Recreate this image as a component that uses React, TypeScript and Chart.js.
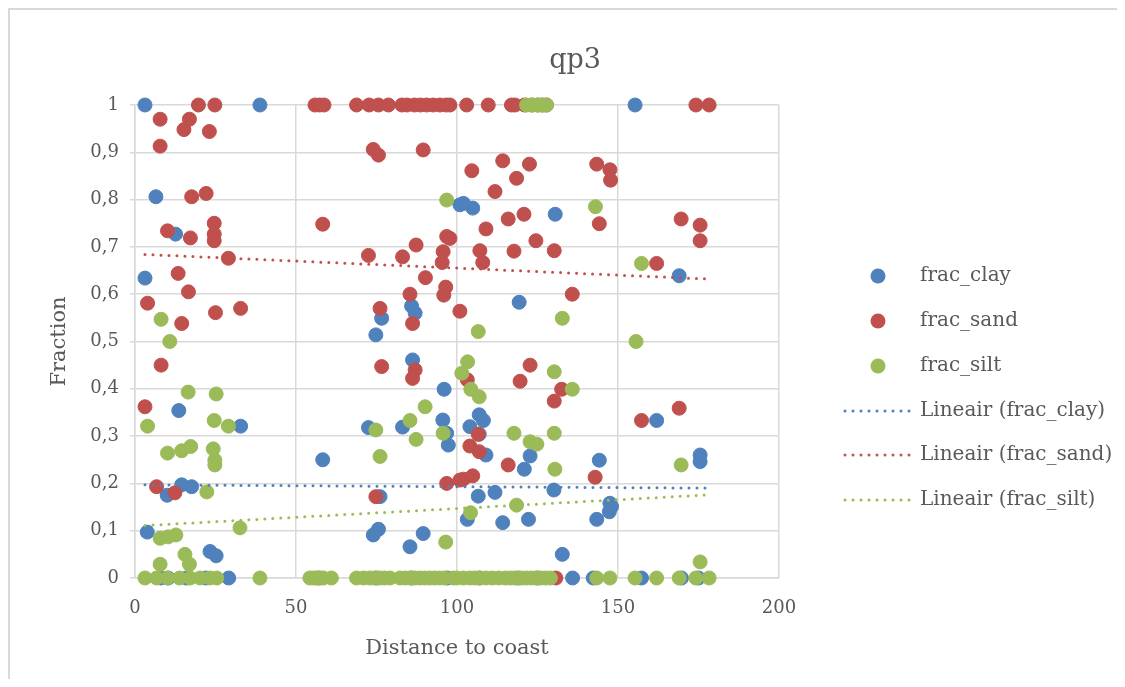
import React, { useEffect, useRef } from 'react';
import { Chart, registerables } from 'chart.js';

Chart.register(...registerables);

const FONT = '"DejaVu Serif", "Liberation Serif", serif';
const TEXT = '#595959';
const GRID = '#d9d9d9';

const chartTitle = 'qp3';
const xAxisTitle = 'Distance to coast';
const yAxisTitle = 'Fraction';
const xTickLabels = ['0', '50', '100', '150', '200'];
const yTickLabels = ['0', '0,1', '0,2', '0,3', '0,4', '0,5', '0,6', '0,7', '0,8', '0,9', '1'];

const seriesNames = ['frac_clay', 'frac_sand', 'frac_silt'];
const trendNames = ['Lineair (frac_clay)', 'Lineair (frac_sand)', 'Lineair (frac_silt)'];
const seriesColors = ['#4F81BD', '#C0504D', '#9BBB59'];

const clayX = [
  3.1, 38.8, 155.3, 6.5, 12.6, 3.1, 13.6, 32.8, 3.8, 23.3, 25.2, 10, 14.5, 17.6, 58.3,
  74.8, 76.6, 85.9, 87, 100.9, 86.2, 96, 72.5, 83.1, 95.6, 96.8, 97.3, 76.1, 75.6, 74, 89.5, 85.4,
  102, 104.9, 130.5, 119.3, 106.9, 108.2, 104, 106.9, 109, 122.7, 120.9, 106.6, 111.8, 103.2, 114.2,
  122.2, 130.1, 144.2, 132.7, 143.4, 147.5, 147.3, 148, 169, 162, 175.5, 175.5,
  8, 10.3, 16, 22, 29.1, 57, 75, 86, 97, 107, 119, 125, 135.9, 142.3, 157.3, 169.7, 175,
];
const clayY = [
  1, 1, 1, 0.806, 0.727, 0.634, 0.354, 0.321, 0.097, 0.056, 0.047, 0.175, 0.197, 0.193, 0.25,
  0.514, 0.549, 0.575, 0.56, 0.789, 0.461, 0.399, 0.318, 0.319, 0.334, 0.306, 0.281, 0.172, 0.103, 0.091, 0.094, 0.066,
  0.792, 0.782, 0.769, 0.583, 0.345, 0.333, 0.32, 0.304, 0.26, 0.258, 0.23, 0.173, 0.181, 0.124, 0.117,
  0.124, 0.186, 0.249, 0.05, 0.124, 0.158, 0.14, 0.151, 0.639, 0.333, 0.26, 0.246,
  0, 0, 0, 0, 0, 0, 0, 0, 0, 0, 0, 0, 0, 0, 0, 0, 0,
];

const sandX = [
  19.7, 24.8, 55.9, 57.3, 58.7, 68.8, 72.7, 75.6, 78.7, 82.9, 84.5, 86.8, 88.6, 90.6, 92.6, 94.7, 96.6, 97.8,
  103, 109.7, 116.9, 118, 121, 123.2, 125, 126.5, 127.8, 174.2, 178.3,
  7.8, 16.9, 15.2, 23.1, 7.8, 17.6, 22.1, 24.6, 10.1, 24.6, 17.2, 24.6, 29, 13.4, 16.6, 3.9, 25, 32.8, 14.5,
  58.3, 8.1, 3.1, 6.7, 12.4,
  74, 75.6, 89.5, 96.8, 97.8, 87.3, 95.7, 72.5, 83.1, 95.4, 90.2, 96.5, 95.9, 85.4, 76.1, 86.2, 100.9,
  76.6, 87, 86.2, 74.8, 96.8, 100.9,
  114.2, 122.5, 104.6, 118.5, 111.8, 143.4, 147.5, 147.7, 120.8, 115.9, 109, 124.5, 107.1, 108, 117.7,
  130.2, 144.2, 135.8,
  122.7, 119.6, 103.2, 132.5, 130.2, 106.6, 104, 106.9, 115.9, 102, 104.9, 142.9, 130.7,
  169.6, 175.5, 175.5, 162, 157.3, 169,
];
const sandY = [
  1, 1, 1, 1, 1, 1, 1, 1, 1, 1, 1, 1, 1, 1, 1, 1, 1, 1,
  1, 1, 1, 1, 1, 1, 1, 1, 1, 1, 1,
  0.97, 0.97, 0.948, 0.944, 0.913, 0.806, 0.813, 0.75, 0.734, 0.727, 0.719, 0.713, 0.676, 0.644, 0.605, 0.581, 0.561, 0.57, 0.538,
  0.748, 0.45, 0.362, 0.193, 0.18,
  0.906, 0.894, 0.905, 0.722, 0.718, 0.704, 0.69, 0.682, 0.679, 0.667, 0.635, 0.615, 0.598, 0.6, 0.57, 0.538, 0.564,
  0.447, 0.44, 0.422, 0.172, 0.2, 0.207,
  0.882, 0.875, 0.861, 0.845, 0.817, 0.875, 0.863, 0.841, 0.769, 0.759, 0.738, 0.713, 0.692, 0.667, 0.691,
  0.692, 0.749, 0.6,
  0.45, 0.416, 0.419, 0.399, 0.374, 0.304, 0.279, 0.267, 0.239, 0.209, 0.216, 0.213, 0,
  0.759, 0.746, 0.713, 0.665, 0.333, 0.359,
];

const siltX = [
  8.1, 10.8, 16.5, 25.2, 3.9, 24.6, 29, 10.1, 14.5, 17.3, 24.3, 24.8, 24.8, 22.3, 32.6, 7.8, 10.3, 12.7, 15.5, 16.9, 7.8,
  96.8, 101.5, 90.1, 85.4, 74.8, 95.7, 87.3, 76.1, 96.5,
  106.6, 132.7, 143, 103.3, 104.3, 106.9, 130.2, 135.8, 117.7, 122.7, 124.8, 130.2, 130.4, 118.5, 104.2,
  157.3, 155.6, 169.6, 175.5,
  121.6, 123.5, 125.2, 126.5, 127.8,
  3.1, 6.7, 10, 13.8, 17.1, 20.2, 23.3, 25.4, 38.8, 54.3, 55.5, 56.5, 57.5, 58.5, 61, 68.8, 71, 73, 74.5, 76,
  77.5, 79.2, 82.3, 84, 85.5, 87, 88.5, 90, 91.5, 93, 94.5, 96, 98.8, 100, 102, 104, 105.5, 107, 109, 111,
  113, 115, 116.5, 118, 120, 121.5, 123, 124.5, 126, 127.5, 129, 143.4, 147.5, 155.3, 162, 169, 174.2, 178.3,
];
const siltY = [
  0.547, 0.5, 0.393, 0.389, 0.321, 0.333, 0.321, 0.264, 0.269, 0.278, 0.273, 0.249, 0.239, 0.182, 0.106, 0.084, 0.087, 0.091, 0.05, 0.029, 0.029,
  0.799, 0.433, 0.362, 0.333, 0.313, 0.306, 0.293, 0.257, 0.076,
  0.521, 0.549, 0.785, 0.457, 0.399, 0.383, 0.436, 0.399, 0.306, 0.288, 0.283, 0.306, 0.23, 0.154, 0.138,
  0.665, 0.5, 0.239, 0.034,
  1, 1, 1, 1, 1,
  0, 0, 0, 0, 0, 0, 0, 0, 0, 0, 0, 0, 0, 0, 0, 0, 0, 0, 0, 0,
  0, 0, 0, 0, 0, 0, 0, 0, 0, 0, 0, 0, 0, 0, 0, 0, 0, 0, 0, 0,
  0, 0, 0, 0, 0, 0, 0, 0, 0, 0, 0, 0, 0, 0, 0, 0, 0, 0,
];

const trendX = [3.1, 178.3];
const clayTrendY = [0.197, 0.19];
const sandTrendY = [0.684, 0.632];
const siltTrendY = [0.111, 0.176];

const zip = (xs: number[], ys: number[]) => xs.map((x, i) => ({ x, y: ys[i] }));

const DOT_DASH = [0, 8];
const CANVAS_W = 1107;
const CANVAS_H = 669;

const overlayPlugin = {
  id: 'overlay',
  afterDraw(chart: any) {
    const { ctx, chartArea } = chart;
    ctx.save();
    ctx.fillStyle = TEXT;
    ctx.font = `27px ${FONT}`;
    ctx.textAlign = 'center';
    ctx.textBaseline = 'alphabetic';
    ctx.fillText(chartTitle, 565, 58);

    const markerX = chartArea.right + 99;
    const lineX0 = chartArea.right + 66;
    const lineX1 = chartArea.right + 133;
    const textX = chartArea.right + 141;
    const rows = [266, 311, 356, 401, 445, 490];
    ctx.font = `20px ${FONT}`;
    ctx.textAlign = 'left';
    ctx.textBaseline = 'middle';
    for (let i = 0; i < 3; i++) {
      const y = rows[i];
      ctx.fillStyle = seriesColors[i];
      ctx.beginPath();
      ctx.arc(markerX, y, 7.5, 0, Math.PI * 2);
      ctx.fill();
      ctx.fillStyle = TEXT;
      ctx.fillText(seriesNames[i], textX, y);
    }
    for (let i = 0; i < 3; i++) {
      const y = rows[i + 3];
      ctx.strokeStyle = seriesColors[i];
      ctx.lineWidth = 3;
      ctx.lineCap = 'round';
      ctx.setLineDash(DOT_DASH);
      ctx.beginPath();
      ctx.moveTo(lineX0, y);
      ctx.lineTo(lineX1, y);
      ctx.stroke();
      ctx.setLineDash([]);
      ctx.fillStyle = TEXT;
      ctx.fillText(trendNames[i], textX, y);
    }
    ctx.restore();
  },
};

export default function App() {
  const ref = useRef<HTMLCanvasElement | null>(null);

  useEffect(() => {
    if (!ref.current) return;
    const pointSet = (i: number, xs: number[], ys: number[], order: number) => ({
      label: seriesNames[i],
      data: zip(xs, ys),
      backgroundColor: seriesColors[i],
      borderColor: seriesColors[i],
      pointRadius: 7,
      pointBorderWidth: 1,
      showLine: false,
      clip: false as any,
      order,
    });
    const trendSet = (i: number, ys: number[]) => ({
      label: trendNames[i],
      data: zip(trendX, ys),
      borderColor: seriesColors[i],
      backgroundColor: seriesColors[i],
      borderWidth: 3,
      borderDash: DOT_DASH,
      borderCapStyle: 'round',
      pointRadius: 0,
      showLine: true,
      clip: false as any,
      order: 0,
    });
    const chart = new Chart(ref.current, {
      type: 'scatter',
      data: {
        datasets: [
          pointSet(0, clayX, clayY, 3),
          pointSet(1, sandX, sandY, 2),
          pointSet(2, siltX, siltY, 1),
          trendSet(0, clayTrendY),
          trendSet(1, sandTrendY),
          trendSet(2, siltTrendY),
        ] as any,
      },
      options: {
        responsive: false,
        animation: false,
        devicePixelRatio: 1,
        events: [],
        layout: { padding: { left: 0, top: 95, right: CANVAS_W - 769, bottom: CANVAS_H - 568 - 85 } },
        plugins: {
          legend: { display: false },
          title: { display: false },
          tooltip: { enabled: false },
        },
        scales: {
          x: {
            type: 'linear',
            min: 0,
            max: 200,
            ticks: {
              stepSize: 50,
              color: TEXT,
              font: { family: FONT, size: 18 },
              padding: 20,
              maxRotation: 0,
              callback: (_v: any, i: number) => xTickLabels[i],
            },
            grid: { color: GRID, lineWidth: 1.5, drawTicks: false },
            border: { display: true, color: GRID, width: 1.5 },
            title: {
              display: true,
              text: xAxisTitle,
              color: TEXT,
              font: { family: FONT, size: 21 },
              padding: { top: 0, bottom: 2 },
            },
            afterFit: (s: any) => { s.height = 85; },
          },
          y: {
            type: 'linear',
            min: 0,
            max: 1,
            ticks: {
              stepSize: 0.1,
              color: TEXT,
              font: { family: FONT, size: 18 },
              padding: 11,
              callback: (_v: any, i: number) => yTickLabels[i],
            },
            grid: { color: GRID, lineWidth: 1.5, drawTicks: true, tickLength: 5, tickColor: GRID },
            border: { display: true, color: GRID, width: 1.5 },
            title: {
              display: true,
              text: yAxisTitle,
              color: TEXT,
              font: { family: FONT, size: 21 },
              padding: { top: 37, bottom: 0 },
            },
            afterFit: (s: any) => { s.width = 125; },
          },
        },
      } as any,
      plugins: [overlayPlugin],
    });
    return () => chart.destroy();
  }, []);

  return (
    <div
      style={{
        width: CANVAS_W,
        height: CANVAS_H,
        borderLeft: '2px solid #d9d9d9',
        borderTop: '2px solid #d9d9d9',
        background: '#fff',
      }}
    >
      <canvas
        ref={ref}
        width={CANVAS_W}
        height={CANVAS_H}
        style={{ display: 'block', width: CANVAS_W, height: CANVAS_H }}
      />
    </div>
  );
}
